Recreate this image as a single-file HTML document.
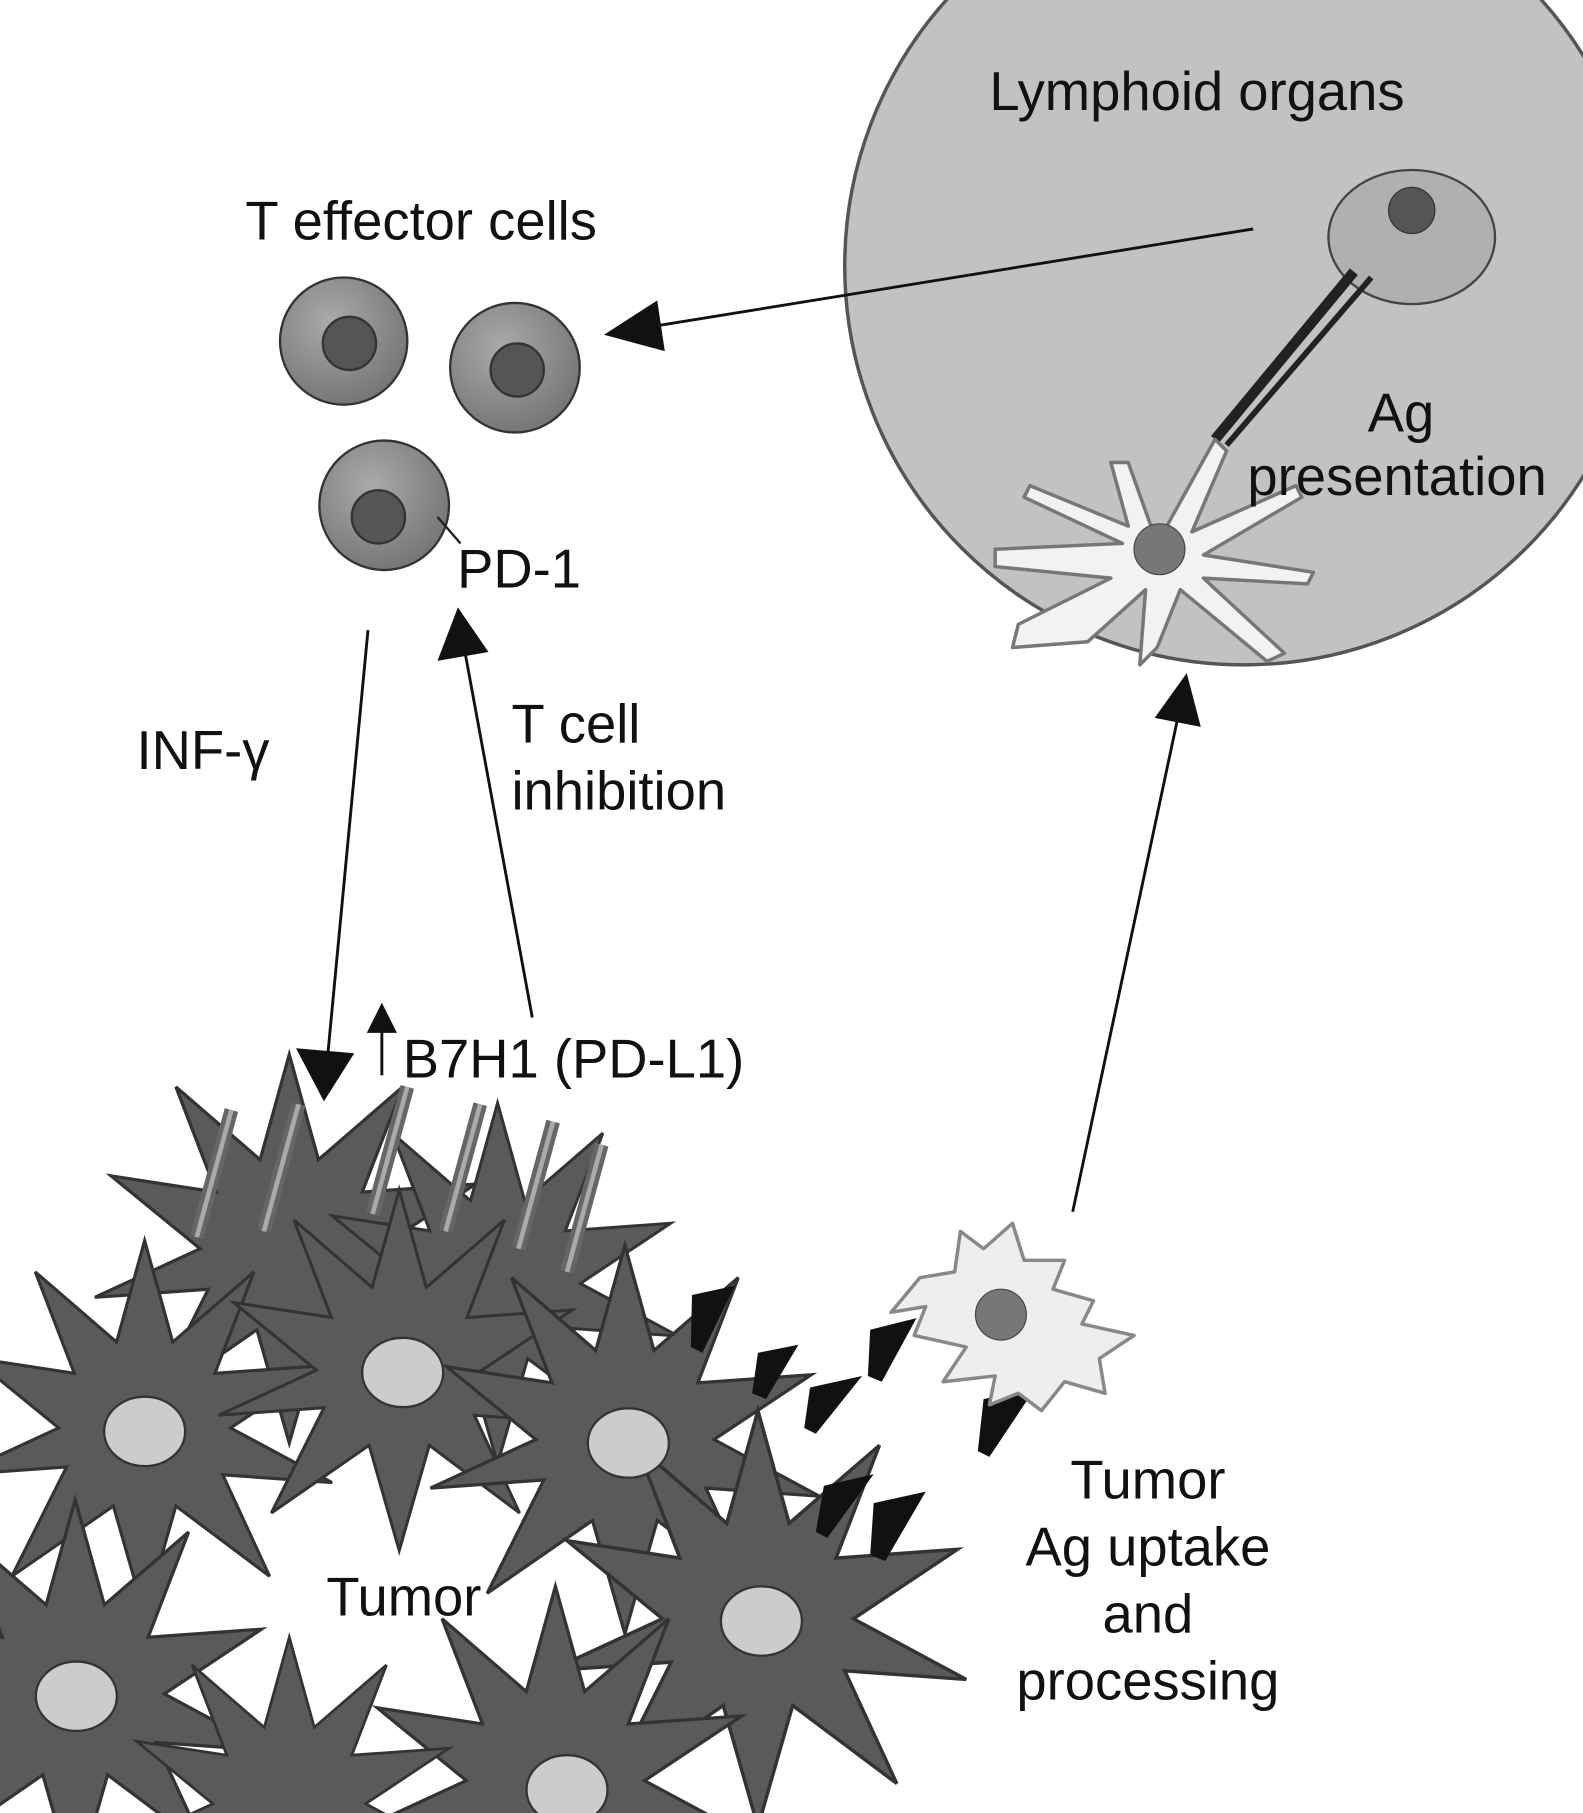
<!DOCTYPE html>
<html><head><meta charset="utf-8"><style>
html,body{margin:0;padding:0;background:#fff;width:1583px;height:1813px;overflow:hidden;}
svg{display:block;}
text{font-family:"Liberation Sans",sans-serif;fill:#111;}
</style></head><body>
<svg width="1583" height="1813" viewBox="0 0 1368 1568" preserveAspectRatio="none" xmlns="http://www.w3.org/2000/svg">
<defs>
<radialGradient id="tc" cx="40%" cy="35%" r="65%"><stop offset="0" stop-color="#aaa"/><stop offset="1" stop-color="#777"/></radialGradient>
<g id="star"><polygon points="0,-120 18,-55 70,-100 45,-35 115,-40 55,0 120,35 50,30 80,95 20,50 0,120 -20,50 -85,95 -50,25 -120,30 -55,0 -110,-45 -45,-35 -70,-100 -18,-55" fill="#5a5a5a" stroke="#333" stroke-width="2"/></g>
</defs>
<rect width="1368" height="1568" fill="#fff"/>
<circle cx="1075" cy="230" r="345" fill="#c2c2c2" stroke="#555" stroke-width="3"/>
<text x="855" y="95" font-size="47">Lymphoid organs</text>
<ellipse cx="1220" cy="205" rx="72" ry="58" fill="#b0b0b0" stroke="#444" stroke-width="2"/>
<circle cx="1220" cy="182" r="20" fill="#555" stroke="#333"/>
<line x1="1170" y1="235" x2="1050" y2="380" stroke="#222" stroke-width="9"/>
<line x1="1185" y1="240" x2="1060" y2="385" stroke="#222" stroke-width="5"/>
<path d="M1000,470 L1050,380 L1060,390 L1030,460 L1120,420 L1125,430 L1040,480 L1135,495 L1130,505 L1040,500 L1110,565 L1095,572 L1020,510 L1000,560 L985,575 L990,510 L940,555 L875,560 L880,540 L960,500 L860,490 L860,475 L970,470 L885,430 L890,420 L975,455 L960,400 L975,400 Z" fill="#f2f2f2" stroke="#777" stroke-width="3" stroke-linejoin="round"/>
<circle cx="1002" cy="475" r="22" fill="#777" stroke="#444"/>
<text x="1182" y="373" font-size="47">Ag</text>
<text x="1078" y="428" font-size="47">presentation</text>
<text x="212" y="207" font-size="47">T effector cells</text>
<g stroke="#333" stroke-width="2">
<circle cx="297" cy="295" r="55" fill="url(#tc)"/><circle cx="302" cy="297" r="23" fill="#555"/>
<circle cx="445" cy="318" r="56" fill="url(#tc)"/><circle cx="447" cy="320" r="23" fill="#555"/>
<circle cx="332" cy="437" r="56" fill="url(#tc)"/><circle cx="327" cy="447" r="23" fill="#555"/>
</g>
<line x1="378" y1="447" x2="398" y2="470" stroke="#222" stroke-width="2"/>
<text x="395" y="508" font-size="47">PD-1</text>
<g stroke="#111" stroke-width="2.5" fill="#111">
<line x1="1083" y1="198" x2="560" y2="283"/><polygon points="525,289 567,262 573,302"/>
<line x1="318" y1="545" x2="283" y2="915"/><polygon points="280,950 258,908 304,912"/>
<line x1="460" y1="880" x2="402" y2="565"/><polygon points="396,528 380,570 420,563"/>
<line x1="927" y1="1048" x2="1018" y2="620"/><polygon points="1025,585 1000,620 1036,627"/>
<line x1="330" y1="930" x2="330" y2="890"/><polygon points="330,870 319,892 341,892"/>
</g>
<text x="118" y="665" font-size="47">INF-γ</text>
<text x="442" y="642" font-size="47">T cell</text>
<text x="442" y="700" font-size="47">inhibition</text>
<text x="348" y="932" font-size="47">B7H1 (PD-L1)</text>
<use href="#star" transform="translate(250,1080) scale(1.4)"/>
<use href="#star" transform="translate(430,1110) scale(1.3)"/>
<g stroke="#666" stroke-width="12">
<line x1="200" y1="960" x2="170" y2="1070"/><line x1="258" y1="955" x2="228" y2="1065"/>
<line x1="352" y1="940" x2="322" y2="1050"/><line x1="415" y1="955" x2="385" y2="1065"/>
<line x1="478" y1="970" x2="448" y2="1080"/><line x1="520" y1="990" x2="490" y2="1100"/>
</g>
<g stroke="#aaa" stroke-width="4">
<line x1="200" y1="960" x2="170" y2="1070"/><line x1="258" y1="955" x2="228" y2="1065"/>
<line x1="352" y1="940" x2="322" y2="1050"/><line x1="415" y1="955" x2="385" y2="1065"/>
<line x1="478" y1="970" x2="448" y2="1080"/><line x1="520" y1="990" x2="490" y2="1100"/>
</g>
<use href="#star" transform="translate(125,1235) scale(1.35)"/>
<use href="#star" transform="translate(345,1185) scale(1.3)"/>
<use href="#star" transform="translate(540,1245) scale(1.4)"/>
<use href="#star" transform="translate(65,1465) scale(1.4)"/>
<use href="#star" transform="translate(655,1400) scale(1.5)"/>
<use href="#star" transform="translate(480,1540) scale(1.4)"/>
<use href="#star" transform="translate(250,1560) scale(1.2)"/>
<g fill="#ccc" stroke="#333" stroke-width="2">
<ellipse cx="125" cy="1238" rx="35" ry="30"/>
<ellipse cx="348" cy="1187" rx="35" ry="30"/>
<ellipse cx="543" cy="1248" rx="35" ry="30"/>
<ellipse cx="66" cy="1467" rx="35" ry="30"/>
<ellipse cx="658" cy="1402" rx="35" ry="30"/>
<ellipse cx="490" cy="1548" rx="35" ry="30"/>
</g>
<text x="282" y="1397" font-size="47">Tumor</text>
<g fill="#111">
<polygon points="598,1120 635,1112 607,1170 597,1165"/>
<polygon points="655,1170 690,1163 662,1210 650,1205"/>
<polygon points="700,1200 745,1190 705,1240 695,1235"/>
<polygon points="752,1150 792,1140 762,1195 750,1190"/>
<polygon points="850,1210 895,1200 855,1260 845,1255"/>
<polygon points="712,1285 755,1275 715,1330 705,1325"/>
<polygon points="755,1300 800,1290 765,1350 752,1345"/>
</g>
<path d="M830,1065 L850,1080 L875,1058 L885,1090 L920,1090 L910,1115 L945,1125 L935,1145 L980,1155 L950,1175 L955,1205 L920,1195 L900,1220 L880,1205 L855,1215 L860,1190 L815,1195 L835,1165 L790,1155 L800,1130 L770,1135 L795,1105 L825,1100 Z" fill="#eee" stroke="#888" stroke-width="3" stroke-linejoin="round"/>
<circle cx="865" cy="1137" r="22" fill="#777" stroke="#444"/>
<text x="992" y="1296" font-size="47" text-anchor="middle">Tumor</text>
<text x="992" y="1354" font-size="47" text-anchor="middle">Ag uptake</text>
<text x="992" y="1412" font-size="47" text-anchor="middle">and</text>
<text x="992" y="1470" font-size="47" text-anchor="middle">processing</text>
</svg>
</body></html>
